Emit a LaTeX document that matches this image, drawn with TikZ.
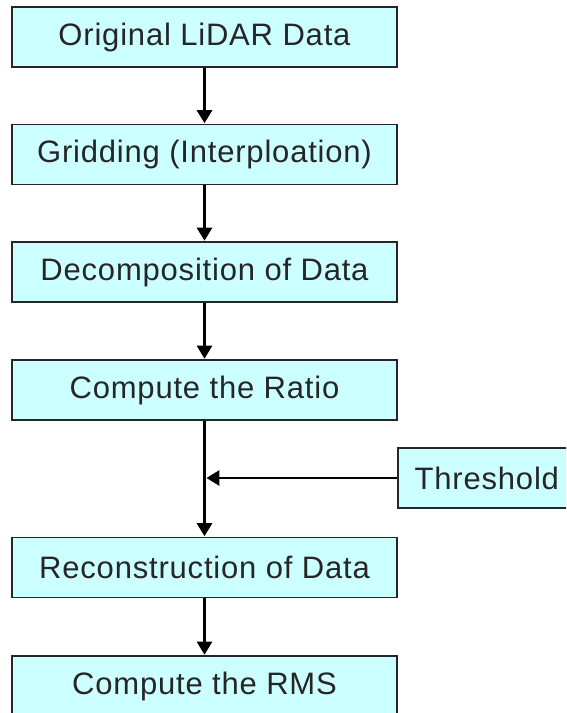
\documentclass[tikz,border=0pt]{standalone}
\usepackage{fontspec}
\setmainfont{Liberation Sans}[LetterSpace=2.6]
\usetikzlibrary{arrows.meta}
\begin{document}
\begin{tikzpicture}[x=1pt,y=-1pt,
  procbox/.style={draw=black!85, line width=1.6pt, fill={rgb,255:red,204;green,255;blue,255}, minimum width=385pt, minimum height=60pt, inner sep=0pt, font=\fontsize{31}{36}\selectfont, text=black!85},
  flow/.style={line width=2.8pt, draw=black, -{Triangle[width=15pt,length=13pt]}, shorten >=0.5pt}
]
\clip (0,0) rectangle (566,713);
\fill[white] (0,0) rectangle (566,713);
\node[procbox] (b1) at (204.5,37) {Original LiDAR Data};
\node[procbox] (b2) at (204.5,154.5) {Gridding (Interploation)};
\node[procbox] (b3) at (204.5,272) {Decomposition of Data};
\node[procbox] (b4) at (204.5,390) {Compute the Ratio};
\node[procbox] (b5) at (204.5,567.5) {Reconstruction of Data};
\node[procbox] (b6) at (204.5,686) {Compute the RMS};
\node[procbox, minimum width=178pt, anchor=west] (th) at (397,478) {Threshold};
\coordinate (j) at (205,478);
\draw[flow] (b1) -- (b2);
\draw[flow] (b2) -- (b3);
\draw[flow] (b3) -- (b4);
\draw[flow] (b4) -- (b5);
\draw[flow, shorten >=1.4pt] (th.west) -- (j);
\draw[flow] (b5) -- (b6);
\end{tikzpicture}
\end{document}
